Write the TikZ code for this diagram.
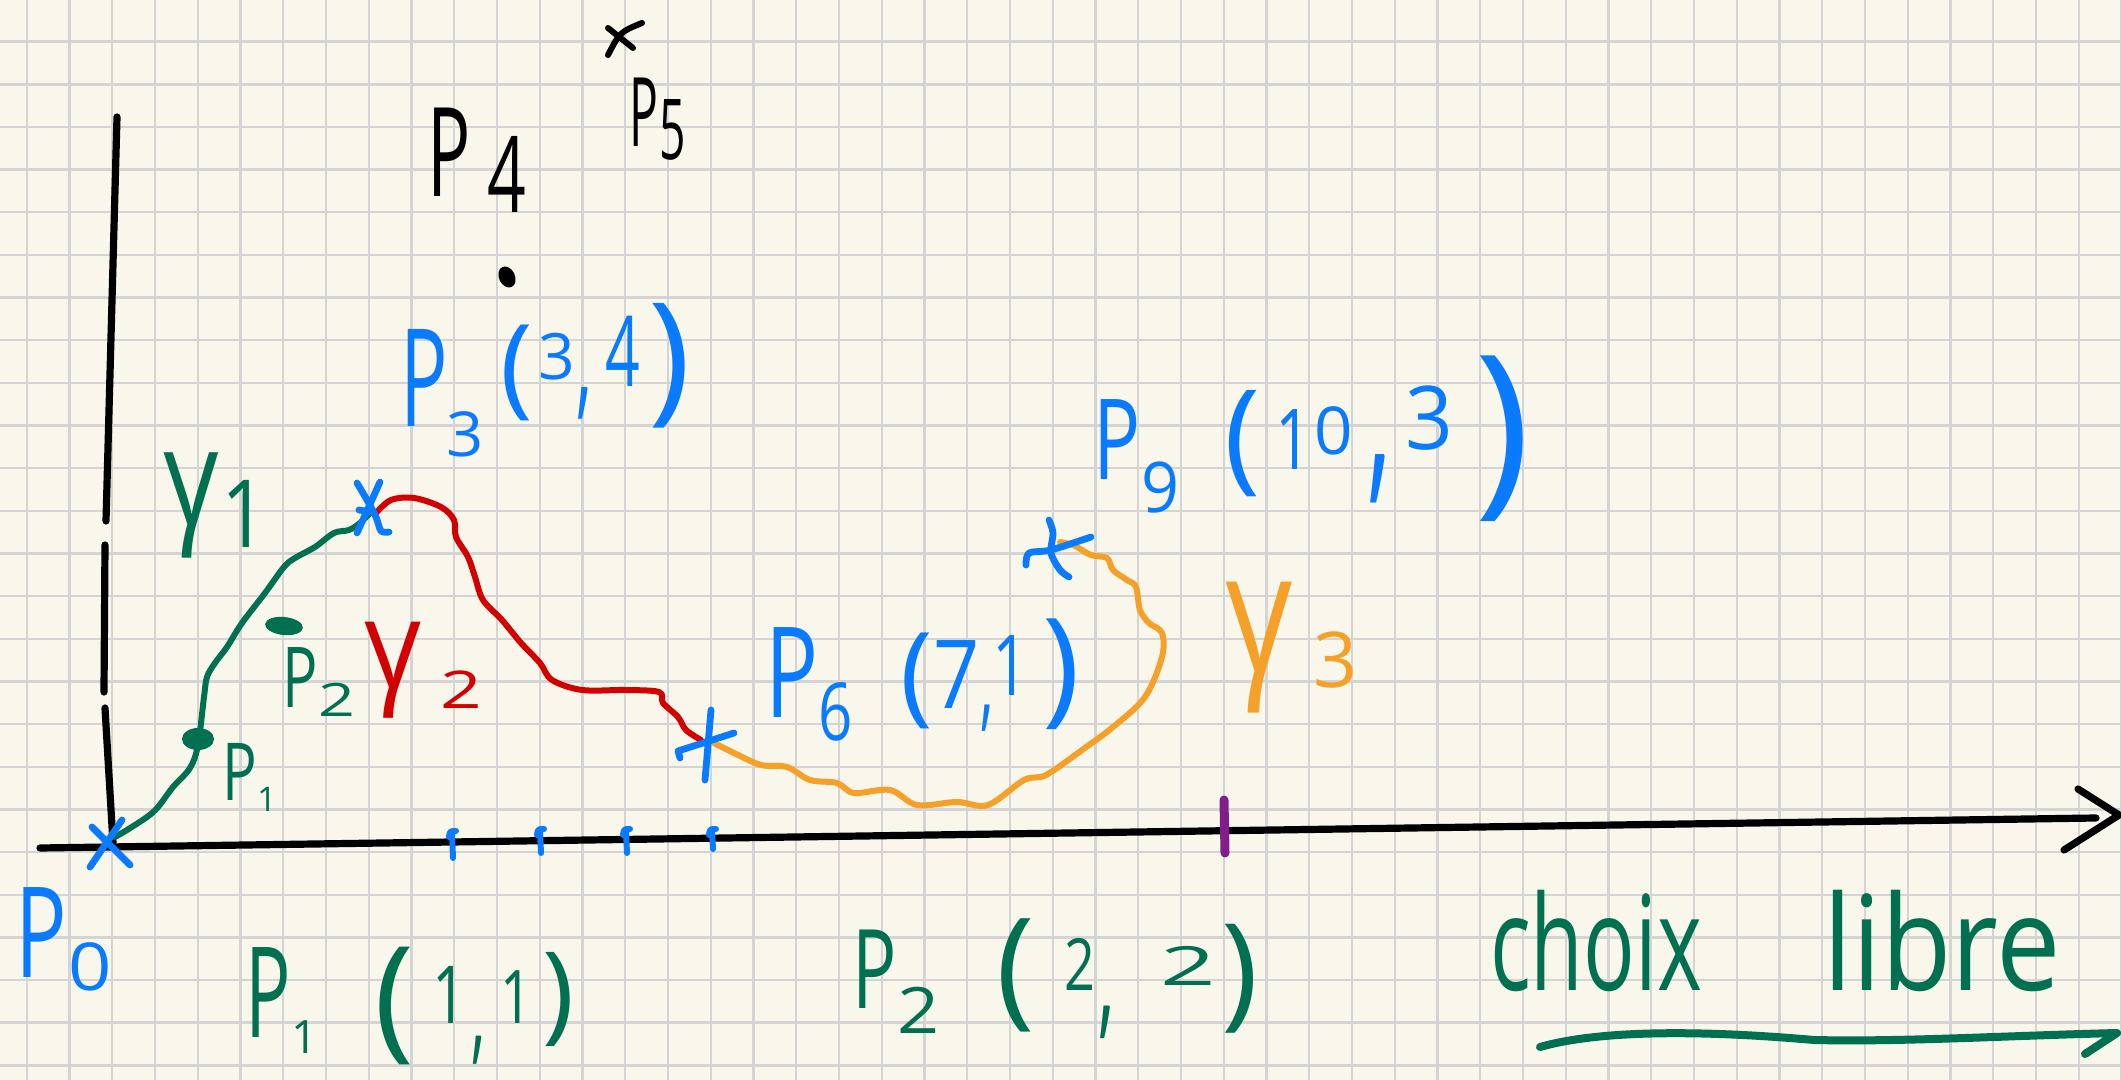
\documentclass[tikz,border=0pt]{standalone}
\usepackage{fontspec}
\setmainfont{Open Sans}
\usepackage{graphicx}
\definecolor{paper}{RGB}{249,247,235}
\definecolor{gridc}{RGB}{212,212,212}
\definecolor{myblue}{RGB}{10,122,255}
\definecolor{mygreen}{RGB}{0,112,80}
\definecolor{myred}{RGB}{210,0,0}
\definecolor{myorange}{RGB}{245,160,40}
\definecolor{mypurple}{RGB}{130,30,140}
\newdimen\pxu \pxu=0.5pt
\newcommand{\gl}[5]{\makebox[0pt][l]{\hspace*{\dimexpr #1\pxu-\gx\pxu\relax}\raisebox{\dimexpr \gy\pxu-#2\pxu\relax}{\scalebox{#4}[1]{\fontsize{#3pt}{#3pt}\selectfont #5}}}}
\newcommand{\glc}[3]{\makebox[0pt][l]{\hspace*{\dimexpr #1\pxu-\gx\pxu\relax}\raisebox{\dimexpr \gy\pxu-#2\pxu\relax}{\scalebox{0.9}[1.8]{\fontsize{#3pt}{#3pt}\selectfont ,}}}}
\begin{document}
\begin{tikzpicture}[x=0.5pt,y=-0.5pt,
  gridline/.style={draw=gridc,line width=1.2pt},
  axisline/.style={draw=black,line width=3.6pt,line cap=round,line join=round},
  pen/.style={line width=3.4pt,line cap=round,line join=round},
  curve/.style={line width=3.0pt,line cap=round,line join=round},
  lbl/.style={anchor=base west,inner sep=0pt,outer sep=0pt}]
\useasboundingbox (0,0) rectangle (2121,1080);
\fill[paper] (0,0) rectangle (2121,1080);
\foreach \k in {0,...,49} {\draw[gridline] ({26.7+42.75*\k},0) -- ({26.7+42.75*\k},1080);}
\foreach \k in {0,...,24} {\draw[gridline] (0,{41.7+42.65*\k}) -- (2121,{41.7+42.65*\k});}
% axes
\coordinate (vtop) at (117,117);
\coordinate (vg1) at (106,521);
\coordinate (vg2) at (105,545);
\coordinate (vg3) at (104,692);
\coordinate (vg4) at (105,708);
\coordinate (vbot) at (113,843);
\coordinate (hstart) at (40,848);
\coordinate (hend) at (2096,818);
\coordinate (ahup) at (2078,789);
\coordinate (ahtip) at (2119,815);
\coordinate (ahlow) at (2064,850);
\draw[axisline] (vtop) -- (vg1);
\draw[axisline] (vg2) -- (vg3);
\draw[axisline] (vg4) -- (vbot);
\draw[axisline] (hstart) -- (hend);
\draw[axisline] (ahup) -- (ahtip) -- (ahlow);
% blue ticks
\foreach \tx/\ty/\tb in {453/831/858, 541/829/853, 627/829/853, 713/829/849}
  {\draw[pen,myblue,line width=3pt] (\tx-4,\ty+6) .. controls (\tx-3,\ty) .. (\tx+3,\ty) (\tx-1,\ty+2) -- (\tx,\tb);}
% purple tick
\draw[pen,mypurple,line width=4.5pt] (1224,800) -- (1225,853);
% gamma1 (green)
\draw[curve,mygreen] plot[smooth,tension=0.55] coordinates {(115,837) (127,830) (147,817) (158,807) (173,787) (190,768) (198,745) (204,697) (207,677) (215,663) (227,647) (242,623) (265,593) (284,567) (295,558) (315,547) (334,533) (349,530) (360,523) (370,513)};
\fill[mygreen] (198,739) ellipse [x radius=16, y radius=11];
\fill[mygreen,rotate around={-6:(284,626)}] (284,626) ellipse [x radius=19, y radius=9];
% gamma2 (red)
\draw[curve,myred] plot[smooth,tension=0.55] coordinates {(376,513) (391,500) (414,498) (441,507) (454,520) (456,537) (468,557) (475,577) (483,600) (502,620) (521,643) (540,663) (552,680) (582,690) (625,690) (659,692) (663,703) (678,717) (686,730) (701,740)};
% gamma3 (orange)
\draw[curve,myorange] plot[smooth,tension=0.55] coordinates {(714,743) (734,753) (761,765) (787,767) (810,780) (837,783) (854,793) (890,790) (917,805) (957,802) (988,805) (1024,780) (1046,775) (1082,750) (1113,727) (1145,697) (1162,657) (1162,633) (1149,623) (1140,610) (1136,587) (1127,580) (1113,570) (1107,558) (1091,555) (1073,545) (1060,542)};
% blue stars
\draw[pen,myblue] (90,867) -- (122,820);
\draw[pen,myblue] (92,827) -- (130,865);
\draw[pen,myblue] (380,482) -- (357,533);
\draw[pen,myblue] plot[smooth] coordinates {(357,483) (367,500) (376,517) (381,531) (389,532)};
\draw[pen,myblue] (359,510) -- (372,512);
\draw[pen,myblue] (711,710) -- (705,780);
\draw[pen,myblue] (680,758) -- (678,751) -- (734,733);
\draw[pen,myblue] plot[smooth] coordinates {(1049,520) (1053,533) (1051,553) (1060,570) (1069,577)};
\draw[pen,myblue] plot[smooth] coordinates {(1026,565) (1029,553) (1051,550) (1091,537)};
% black marks
\fill[black,rotate around={25:(507,277)}] (507,277) ellipse [x radius=8, y radius=11];
\draw[pen,black,line width=3pt] (608,28) -- (633,48);
\draw[pen,black,line width=3pt] (642,23) .. controls (620,32) .. (608,55);
% underline
\draw[pen,mygreen,line width=4pt] (1540,1047) .. controls (1600,1030) and (1700,1030) .. (1814,1040) .. controls (1900,1042) and (2000,1036) .. (2117,1033) -- (2085,1054);
% labels
\node[lbl,text=myblue] (lP0) at (16,977) {\def\gx{16}\def\gy{977}\gl{16}{977}{63}{0.68}{P}\gl{68}{990}{33}{1.15}{0}\hspace*{95\pxu}};
\node[lbl,text=mygreen] (lP1s) at (222,800) {\def\gx{222}\def\gy{800}\gl{222}{800}{40}{0.72}{P}\gl{257}{811}{17}{1}{1}\hspace*{55\pxu}};
\node[lbl,text=mygreen] (lP2s) at (282,707) {\def\gx{282}\def\gy{707}\gl{282}{707}{42}{0.7}{P}\gl{318}{716}{23}{1.4}{2}\hspace*{75\pxu}};
\node[lbl,text=mygreen] (lg1) at (163,525) {\def\gx{163}\def\gy{525}\gl{163}{525}{68}{0.8}{γ}\gl{221}{547}{47}{0.85}{1}\hspace*{105\pxu}};
\node[lbl,text=myred] (lg2) at (364,688) {\def\gx{364}\def\gy{688}\gl{364}{688}{62}{0.9}{γ}\gl{440}{708}{26}{1.4}{2}\hspace*{125\pxu}};
\node[lbl,text=myorange] (lg3) at (1225,672) {\def\gx{1225}\def\gy{672}\gl{1225}{672}{84.5}{0.78}{γ}\gl{1313}{687}{38.5}{1}{3}\hspace*{135\pxu}};
\node[lbl,text=myblue] (lP3) at (400,427) {\def\gx{400}\def\gy{427}\gl{400}{427}{68}{0.58}{P}\gl{446}{457}{31}{1.05}{3}\gl{500}{404}{55}{1}{(}\gl{538}{380}{32}{1}{3}\glc{576}{402}{36}\gl{605}{387}{49}{0.62}{4}\gl{648}{406}{71.5}{1}{)}\hspace*{290\pxu}};
\node[lbl,text=myblue] (lP6) at (765,717) {\def\gx{765}\def\gy{717}\gl{765}{717}{63}{0.7}{P}\gl{818}{740}{40}{0.75}{6}\gl{900}{711}{55}{1}{(}\gl{933}{708}{47.6}{0.85}{7}\glc{980}{718}{30}\gl{992}{695}{42}{0.75}{1}\gl{1042}{709}{63.5}{1}{)}\hspace*{315\pxu}};
\node[lbl,text=myblue] (lP9) at (1093,480) {\def\gx{1093}\def\gy{480}\gl{1093}{480}{56}{0.7}{P}\gl{1141}{513}{35}{0.95}{9}\gl{1224}{478}{61}{1}{(}\gl{1275}{470}{42}{0.75}{1}\gl{1314}{455}{33}{1.02}{0}\glc{1367}{477}{55}\gl{1405}{450}{44}{0.95}{3}\gl{1474}{492}{95}{1}{)}\hspace*{445\pxu}};
\node[lbl,text=mygreen] (lP1) at (245,1037) {\def\gx{245}\def\gy{1037}\gl{245}{1037}{63}{0.6}{P}\gl{291}{1053}{23}{1}{1}\gl{374}{1043}{67.5}{1}{(}\gl{432}{1023}{40}{0.75}{1}\glc{471}{1049}{32}\gl{500}{1023}{37}{0.75}{1}\gl{542}{1029}{54}{1}{)}\hspace*{330\pxu}};
\node[lbl,text=mygreen] (lP2) at (852,1008) {\def\gx{852}\def\gy{1008}\gl{852}{1008}{55}{0.67}{P}\gl{897}{1033}{32}{1.15}{2}\gl{996}{1011}{65}{1}{(}\gl{1064}{990}{36}{0.75}{2}\glc{1098}{1021}{37}\gl{1160}{985}{27}{1.8}{2}\gl{1221}{1013}{62.5}{1}{)}\hspace*{410\pxu}};
\node[lbl,text=black] (lP4) at (427,197) {\def\gx{427}\def\gy{197}\gl{427}{197}{62}{0.58}{P}\gl{487}{213}{53}{0.64}{4}\hspace*{101\pxu}};
\node[lbl,text=black] (lP5) at (629,147) {\def\gx{629}\def\gy{147}\gl{629}{147}{48}{0.5}{P}\gl{659}{160}{42}{0.55}{5}\hspace*{56\pxu}};
\node[lbl,text=mygreen] (lchoix) at (1490,990) {\def\gx{1490}\def\gy{990}\gl{1490}{990}{66}{0.65}{choix}\gl{1823}{990}{66}{0.87}{libre}\hspace*{577\pxu}};
\end{tikzpicture}
\end{document}
